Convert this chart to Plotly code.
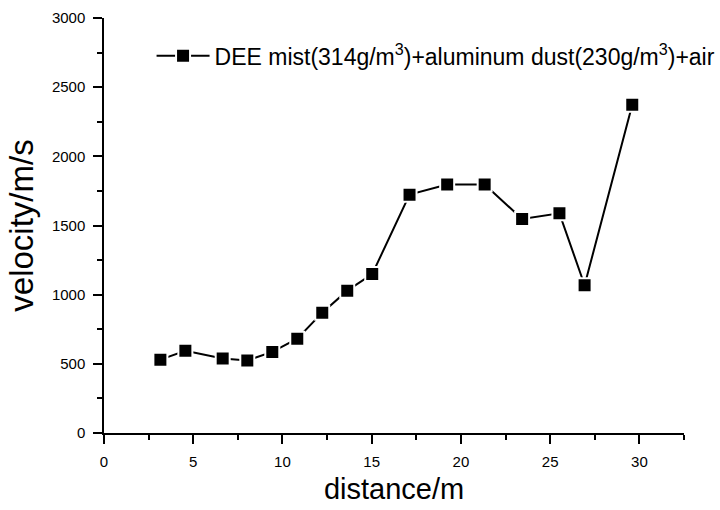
import plotly.graph_objects as go

distance = [3.16, 4.56, 6.65, 8.03, 9.43, 10.83, 12.23, 13.63, 15.03, 17.12,
            19.23, 21.33, 23.43, 25.52, 26.93, 29.6]
velocity = [530, 595, 539, 525, 586, 682, 870, 1029, 1149, 1723,
            1797, 1797, 1547, 1588, 1068, 2373]
series_name = "DEE mist(314g/m<sup>3</sup>)+aluminum dust(230g/m<sup>3</sup>)+air"
x_ticks = [0, 5, 10, 15, 20, 25, 30]
y_ticks = [0, 500, 1000, 1500, 2000, 2500, 3000]

FONT = "Liberation Sans, Arial, sans-serif"

fig = go.Figure()
fig.add_trace(go.Scatter(
    x=distance, y=velocity, mode="lines+markers", name=series_name,
    line=dict(color="black", width=2),
    marker=dict(symbol="square", size=14, color="black",
                line=dict(color="white", width=2)),
))

axis_common = dict(
    showgrid=False, zeroline=False, showline=True, linecolor="black", linewidth=1.5,
    ticks="outside", ticklen=9, tickwidth=1.5, tickcolor="black",
    ticklabelstandoff=5,
    tickfont=dict(family=FONT, size=15, color="black"),
    mirror=False,
)
fig.update_xaxes(
    range=[0, 32.5], tickvals=x_ticks,
    minor=dict(ticks="outside", ticklen=5, tickwidth=1.5, tickcolor="black", dtick=2.5, tick0=0),
    title=dict(text="distance/m", font=dict(family=FONT, size=29, color="black"), standoff=10),
    **axis_common,
)
fig.update_yaxes(
    range=[0, 3000], tickvals=y_ticks,
    minor=dict(ticks="outside", ticklen=5, tickwidth=1.5, tickcolor="black", dtick=250, tick0=0),
    title=dict(text="velocity/m/s", font=dict(family=FONT, size=33, color="black"), standoff=8),
    **axis_common,
)
fig.update_layout(
    width=720, height=510,
    margin=dict(l=104, r=36, t=18, b=77, autoexpand=False),
    plot_bgcolor="white", paper_bgcolor="white",
    showlegend=True,
    legend=dict(x=0.082, y=0.909, xanchor="left", yanchor="middle",
                itemwidth=53,
                bgcolor="rgba(0,0,0,0)", borderwidth=0,
                font=dict(family=FONT, size=23, color="black")),
)
fig.write_html("out.html")
